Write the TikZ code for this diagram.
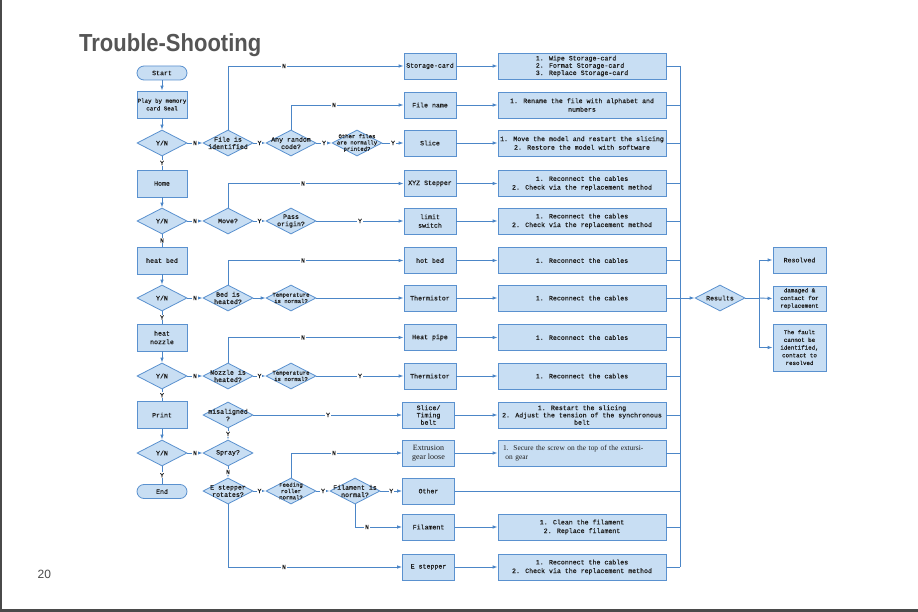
\documentclass[tikz,border=0pt]{standalone}
\usepackage{fontspec}
\usetikzlibrary{shapes.geometric,arrows.meta}
\newfontfamily\monof[FakeBold=0.5]{Liberation Mono}
\newfontfamily\serf{Liberation Serif}
\newfontfamily\sansf{Liberation Sans}
\definecolor{bfill}{HTML}{C8DEF3}
\definecolor{bline}{HTML}{5A91CF}
\definecolor{lcol}{HTML}{4C86C7}
\definecolor{tcol}{HTML}{1E1E1E}
\definecolor{ttl}{HTML}{555555}
\definecolor{frm}{HTML}{4A4A4A}
\newcommand\fm{\monof\fontsize{6.6}{8.6}\selectfont}
\newcommand\fd{\monof\fontsize{6.6}{7.3}\selectfont}
\newcommand\fs{\monof\fontsize{5.6}{6.3}\selectfont}
\newcommand\fr{\monof\fontsize{5.8}{7.7}\selectfont}
\newcommand\dnode[4][]{\node[dia] (#2) at (#3) {}; \node[dtxt,#1] (#2t) at (#2) {#4};}
\begin{document}
\begin{tikzpicture}[x=1pt,y=-1pt,
  base/.style={draw=bline, fill=bfill, line width=0.8pt, inner sep=0pt, align=center, text=tcol, font=\fm},
  lbox/.style={base, minimum width=50pt, minimum height=27pt},
  term/.style={base, rounded corners=7pt, minimum width=50pt, minimum height=14pt},
  cbox/.style={base, minimum width=52pt, minimum height=26pt},
  sbox/.style={base, minimum width=168pt, minimum height=26pt},
  rbox/.style={base, minimum width=53pt},
  dia/.style={diamond, draw=bline, fill=bfill, line width=0.8pt, inner sep=0pt, minimum width=50pt, minimum height=26pt},
  dtxt/.style={align=center, font=\fd, text=tcol, inner sep=0pt},
  con/.style={draw=lcol, line width=0.9pt},
  arr/.style={con, -{Latex[length=5pt,width=3.6pt]}},
  lab/.style={fill=white, inner sep=0.6pt, font=\fd, text=tcol}]
\useasboundingbox (0,0) rectangle (918,612);
\fill[white] (0,0) rectangle (918,612);
\draw[frm, line width=2pt] (1,0) -- (1,612);
\draw[frm, line width=2.5pt] (0,610.5) -- (918,610.5);

% title and page number
\node[anchor=base west, inner sep=0pt, text=ttl, font=\sansf\bfseries\fontsize{22}{22}\selectfont] (title) at (79,52) {\scalebox{1}[1.12]{Trouble-Shooting}};
\node[anchor=base west, inner sep=0pt, text=frm, font=\sansf\fontsize{12}{12}\selectfont] (pg) at (37.5,578) {20};

% left column
\node[term] (start) at (162,73) {Start};
\node[lbox, font=\fr] (play) at (162,104.5) {Play by memory\\card Seal};
\dnode{yn1}{162,143}{Y/N}
\node[lbox] (home) at (162,183.5) {Home};
\dnode{yn2}{162,221}{Y/N}
\node[lbox] (heatbed) at (162,260.5) {heat bed};
\dnode{yn3}{162,298}{Y/N}
\node[lbox] (heatnoz) at (162,337.5) {heat\\nozzle};
\dnode{yn4}{162,376}{Y/N}
\node[lbox] (print) at (162,415) {Print};
\dnode{yn5}{162,453}{Y/N}
\node[term] (endn) at (162,491.5) {End};

% decision columns
\dnode{fid}{228,143}{File is\\identified}
\dnode{anyr}{291,143}{Any random\\code?}
\dnode[font=\fs]{ofp}{357,143}{Other files\\are normally\\printed?}
\dnode{move}{228,221}{Move?}
\dnode{pass}{291,221}{Pass\\origin?}
\dnode{bed}{228,298}{Bed is\\heated?}
\dnode[font=\fs]{temp1}{291,298}{Temperature\\is normal?}
\dnode{noz}{228,376}{Nozzle is\\heated?}
\dnode[font=\fs]{temp2}{291,376}{Temperature\\is normal?}
\dnode{mis}{228,415}{misaligned\\?}
\dnode{spray}{228,453}{Spray?}
\dnode{estep}{228,491}{E stepper\\rotates?}
\dnode[font=\fs]{feed}{291,491}{Feeding\\roller\\normal?}
\dnode{filok}{355,491}{Filament is\\normal?}

% component boxes
\node[cbox] (c1) at (430,66) {Storage-card};
\node[cbox] (c2) at (430,105) {File name};
\node[cbox] (c3) at (430,143) {Slice};
\node[cbox] (c4) at (430,183.5) {XYZ Stepper};
\node[cbox] (c5) at (430,221) {limit\\switch};
\node[cbox] (c6) at (430,260.5) {hot bed};
\node[cbox] (c7) at (430,298) {Thermistor};
\node[cbox] (c8) at (430,337.5) {Heat pipe};
\node[cbox] (c9) at (430,376) {Thermistor};
\node[cbox, font=\fd] (c10) at (428.5,415) {Slice/\\Timing\\belt};
\node[cbox, font=\serf\fontsize{8}{8.5}\selectfont] (c11) at (428.5,453) {Extrusion\\gear loose};
\node[cbox] (c12) at (428.5,491) {Other};
\node[cbox] (c13) at (428.5,527) {Filament};
\node[cbox] (c14) at (428.5,567) {E stepper};

% solution boxes
\node[sbox, font=\fd, align=left] (s1) at (582,66) {1. Wipe Storage-card\\2. Format Storage-card\\3. Replace Storage-card};
\node[sbox] (s2) at (582,105) {1. Rename the file with alphabet and\\numbers};
\node[sbox] (s3) at (582,143) {1. Move the model and restart the slicing\\2. Restore the model with software};
\node[sbox] (s4) at (582,183.5) {1. Reconnect the cables\\2. Check via the replacement method};
\node[sbox] (s5) at (582,221) {1. Reconnect the cables\\2. Check via the replacement method};
\node[sbox] (s6) at (582,260.5) {1. Reconnect the cables};
\node[sbox] (s7) at (582,298) {1. Reconnect the cables};
\node[sbox] (s8) at (582,337.5) {1. Reconnect the cables};
\node[sbox] (s9) at (582,376) {1. Reconnect the cables};
\node[sbox, font=\fd] (s10) at (582,415) {1. Restart the slicing\\2. Adjust the tension of the synchronous\\belt};
\node[sbox, align=left, text width=158pt, font=\serf\fontsize{7.4}{8.4}\selectfont] (s11) at (582,453) {1.\ \ Secure the screw on the top of the extursi-\\\ on gear};
\node[sbox] (s13) at (582,527) {1. Clean the filament\\2. Replace filament};
\node[sbox] (s14) at (582,567) {1. Reconnect the cables\\2. Check via the replacement method};

% results
\dnode{res}{720,298}{Results}
\node[rbox, minimum height=26pt] (r1) at (799.5,260) {Resolved};
\node[rbox, minimum height=25pt, font=\fr] (r2) at (799.5,298.5) {damaged \&\\contact for\\replacement};
\node[rbox, minimum height=47pt, font=\fr] (r3) at (799.5,347.5) {The fault\\cannot be\\identified,\\contact to\\resolved};

\coordinate (bustop) at (680,66);
\coordinate (busbot) at (680,567);
\coordinate (brtop) at (759,260);
\coordinate (brbot) at (759,347.5);

% left column connectors
\draw[arr] (start) -- (play);
\draw[arr] (play) -- (yn1);
\draw[con] (yn1) -- node[lab] (l01) {Y} (home);
\draw[arr] (home) -- (yn2);
\draw[con] (yn2) -- node[lab] (l02) {N} (heatbed);
\draw[arr] (heatbed) -- (yn3);
\draw[con] (yn3) -- node[lab] (l03) {Y} (heatnoz);
\draw[arr] (heatnoz) -- (yn4);
\draw[con] (yn4) -- node[lab] (l04) {Y} (print);
\draw[arr] (print) -- (yn5);
\draw[con] (yn5) -- node[lab] (l05) {Y} (endn);

% row 143
\draw[arr] (yn1) -- node[lab] (l06) {N} (fid);
\draw[arr] (fid) -- node[lab] (l07) {Y} (anyr);
\draw[arr] (anyr) -- node[lab] (l08) {Y} (ofp);
\draw[arr] (ofp) -- node[lab] (l09) {Y} (c3);
\draw[arr] (fid.north) |- (c1.west);
\node[lab] (l10) at (284,66) {N};
\draw[arr] (anyr.north) |- (c2.west);
\node[lab] (l11) at (334,105) {N};

% row 221
\draw[arr] (yn2) -- node[lab] (l12) {N} (move);
\draw[arr] (move) -- node[lab] (l13) {Y} (pass);
\draw[arr] (pass) -- (c5);
\node[lab] (l14) at (360,221) {Y};
\draw[arr] (move.north) |- (c4.west);
\node[lab] (l15) at (303,183.5) {N};

% row 298
\draw[arr] (yn3) -- node[lab] (l16) {N} (bed);
\draw[arr] (bed) -- (temp1);
\draw[arr] (temp1) -- (c7);
\draw[arr] (bed.north) |- (c6.west);
\node[lab] (l17) at (303,260.5) {N};

% row 376
\draw[arr] (yn4) -- node[lab] (l18) {N} (noz);
\draw[arr] (noz) -- node[lab] (l19) {Y} (temp2);
\draw[arr] (temp2) -- (c9);
\node[lab] (l20) at (360,376) {Y};
\draw[arr] (noz.north) |- (c8.west);
\node[lab] (l21) at (303,337.5) {N};

% rows 415-567
\draw[arr] (mis) -- (c10);
\node[lab] (l22) at (328,415) {Y};
\draw[arr] (mis) -- node[lab] (l23) {Y} (spray);
\draw[arr] (yn5) -- node[lab] (l24) {N} (spray);
\draw[arr] (spray) -- node[lab] (l25) {N} (estep);
\draw[arr] (estep) -- node[lab] (l26) {Y} (feed);
\draw[arr] (feed) -- node[lab] (l27) {Y} (filok);
\draw[arr] (filok) -- node[lab] (l28) {Y} (c12);
\draw[arr] (feed.north) |- (c11.west);
\node[lab] (l29) at (334,453) {N};
\draw[arr] (filok.south) |- (c13.west);
\node[lab] (l30) at (367,527) {N};
\draw[arr] (estep.south) |- (c14.west);
\node[lab] (l31) at (284,567) {N};

% components to solutions
\foreach \i in {1,...,11,13,14} {\draw[arr] (c\i) -- (s\i);}

% solutions to bus
\draw[con] (bustop) -- (busbot);
\foreach \i in {1,...,11,13,14} {\draw[con] (s\i.east) -- (s\i.east -| bustop);}
\draw[con] (c12.east) -- (c12.east -| bustop);
\draw[arr] (s7.east -| bustop) -- (res.west);

% results branches
\draw[con] (res.east) -- (res.east -| brtop);
\draw[con] (brtop) -- (brbot);
\draw[arr] (brtop) -- (r1.west);
\draw[arr] (res.east -| brtop) -- (r2.west);
\draw[arr] (brbot) -- (r3.west);
\end{tikzpicture}
\end{document}
